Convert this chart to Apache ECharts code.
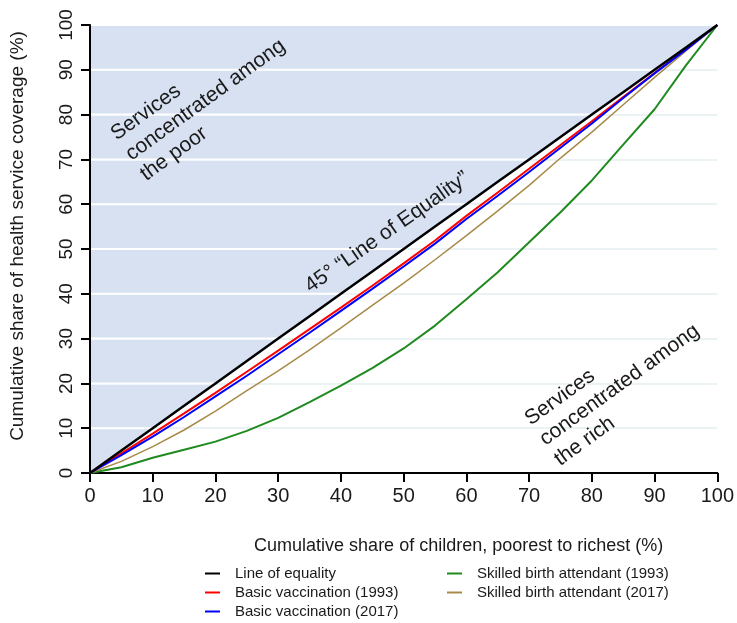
<!DOCTYPE html>
<html>
<head>
<meta charset="utf-8">
<script src="https://cdn.jsdelivr.net/npm/echarts@6/dist/echarts.min.js"></script>
<style>
  html, body { margin: 0; padding: 0; background: #ffffff; }
  #chart { width: 737px; height: 623px; }
</style>
</head>
<body>
<div id="chart"></div>
<script>
// Cumulative share of children, poorest to richest (%)
const shareChildren = [0, 5, 10, 15, 20, 25, 30, 35, 40, 45, 50, 55, 60, 65, 70, 75, 80, 85, 90, 95, 100];

// Cumulative share of health service coverage (%) for each indicator
const lineOfEquality = [0, 5, 10, 15, 20, 25, 30, 35, 40, 45, 50, 55, 60, 65, 70, 75, 80, 85, 90, 95, 100];
const basicVacc1993 = [0, 4.4, 8.8, 13.3, 17.9, 22.6, 27.3, 32.1, 36.9, 41.8, 46.8, 51.9, 57.4, 62.6, 67.9, 73.2, 78.5, 83.9, 89.3, 94.6, 100];
const basicVacc2017 = [0, 4.0, 8.1, 12.5, 17.1, 21.7, 26.5, 31.3, 36.2, 41.1, 46.1, 51.2, 56.7, 61.9, 67.2, 72.6, 78.0, 83.7, 89.2, 94.5, 100];
const birthAtt1993 = [0, 1.3, 3.4, 5.2, 7.0, 9.4, 12.3, 15.8, 19.5, 23.4, 27.8, 32.9, 38.8, 44.8, 51.5, 58.2, 65.3, 73.3, 81.2, 91.0, 100];
const birthAtt2017 = [0, 2.6, 5.9, 9.6, 13.8, 18.4, 22.8, 27.5, 32.4, 37.4, 42.4, 47.6, 53.0, 58.5, 64.2, 70.3, 76.1, 82.2, 88.3, 94.2, 100];

// Axis ticks (both axes)
const tickValues = [0, 10, 20, 30, 40, 50, 60, 70, 80, 90, 100];

const seriesNames = [
  'Line of equality',
  'Basic vaccination (1993)',
  'Basic vaccination (2017)',
  'Skilled birth attendant (1993)',
  'Skilled birth attendant (2017)'
];

const FONT = '"Liberation Sans", Arial, sans-serif';
const TEXT = '#1a1a1a';
const AXIS_MIN = tickValues[0];
const AXIS_MAX = tickValues[tickValues.length - 1];

const pairs = ys => shareChildren.map((x, i) => [x, ys[i]]);

const chart = echarts.init(document.getElementById('chart'), null, { renderer: 'canvas' });

const rot = 36 * Math.PI / 180;
const noteStyle = {
  fill: TEXT,
  font: '21px ' + FONT,
  lineHeight: 25,
  align: 'left',
  verticalAlign: 'top'
};

const legendBase = {
  orient: 'vertical', top: 564, padding: 0, height: 60,
  icon: 'rect', itemWidth: 15, itemHeight: 2, itemGap: 0,
  selectedMode: false,
  textStyle: { fontSize: 15, lineHeight: 19, color: TEXT, fontFamily: FONT, padding: [0, 0, 0, 10] }
};

chart.setOption({
  animation: false,
  backgroundColor: '#ffffff',
  grid: { left: 90, right: 17, top: 25, bottom: 150, containLabel: false },
  xAxis: {
    type: 'value', min: AXIS_MIN, max: AXIS_MAX, interval: 10, z: 1,
    name: 'Cumulative share of children, poorest to richest (%)',
    nameLocation: 'middle', nameGap: 64,
    nameTextStyle: { fontSize: 18, color: TEXT, fontFamily: FONT, padding: [0, 0, 0, 110] },
    axisLine: { show: true, onZero: false, lineStyle: { color: '#000', width: 2 } },
    axisTick: { show: true, length: 9, lineStyle: { color: '#000', width: 2 } },
    axisLabel: { fontSize: 20, color: TEXT, fontFamily: FONT, margin: 13 },
    splitLine: { show: false }
  },
  yAxis: {
    type: 'value', min: AXIS_MIN, max: AXIS_MAX, interval: 10, z: 1,
    name: 'Cumulative share of health service coverage (%)',
    nameLocation: 'middle', nameGap: 63, nameRotate: 90,
    nameTextStyle: { fontSize: 19, color: TEXT, fontFamily: FONT, padding: [0, 0, 0, 26] },
    axisLine: { show: true, onZero: false, lineStyle: { color: '#000', width: 2 } },
    axisTick: { show: true, length: 9, lineStyle: { color: '#000', width: 2 } },
    axisLabel: { fontSize: 19, color: TEXT, fontFamily: FONT, rotate: 90, margin: 14 },
    splitLine: { show: true, lineStyle: { color: '#e3eef1', width: 1.5 } }
  },
  legend: [
    Object.assign({ data: seriesNames.slice(0, 3), left: 205 }, legendBase),
    Object.assign({ data: seriesNames.slice(3), left: 447 }, legendBase)
  ],
  graphic: [
    {
      type: 'text', x: 106, y: 126, rotation: rot, z: 100,
      style: Object.assign({ text: 'Services\nconcentrated among\nthe poor' }, noteStyle)
    },
    {
      type: 'text', x: 520, y: 411, rotation: rot, z: 100,
      style: Object.assign({ text: 'Services\nconcentrated among\nthe rich' }, noteStyle)
    },
    {
      type: 'text', x: 300, y: 278, rotation: 35 * Math.PI / 180, z: 100,
      style: Object.assign({ text: '45° \u201CLine of Equality\u201D' }, noteStyle)
    }
  ],
  series: [
    {
      // shaded region above the line of equality
      type: 'custom', name: 'poorRegion', silent: true, z: 0,
      data: [[AXIS_MIN, AXIS_MAX]],
      renderItem: function (params, api) {
        const a = api.coord([AXIS_MIN, AXIS_MIN]);
        const b = api.coord([AXIS_MIN, AXIS_MAX]);
        const c = api.coord([AXIS_MAX, AXIS_MAX]);
        return {
          type: 'polygon',
          shape: { points: [a, b, c] },
          style: { fill: '#d8e1f1' }
        };
      }
    },
    {
      // white grid lines across the shaded region
      type: 'custom', name: 'poorGrid', silent: true, z: 2,
      data: tickValues.slice(1).map(v => [v, v]),
      renderItem: function (params, api) {
        const v = api.value(1);
        const p0 = api.coord([AXIS_MIN, v]);
        const p1 = api.coord([v, v]);
        return {
          type: 'line',
          shape: { x1: p0[0] + 1, y1: p0[1], x2: p1[0], y2: p1[1] },
          style: { stroke: '#ffffff', lineWidth: 2 }
        };
      }
    },
    {
      name: seriesNames[3], type: 'line', data: pairs(birthAtt1993), z: 3,
      symbol: 'none', color: '#1f8a1f', lineStyle: { width: 2, color: '#1f8a1f' }
    },
    {
      name: seriesNames[4], type: 'line', data: pairs(birthAtt2017), z: 3,
      symbol: 'none', color: '#a88a48', lineStyle: { width: 1.5, color: '#a88a48' }
    },
    {
      name: seriesNames[1], type: 'line', data: pairs(basicVacc1993), z: 4,
      symbol: 'none', color: '#ff0000', lineStyle: { width: 2, color: '#ff0000' }
    },
    {
      name: seriesNames[2], type: 'line', data: pairs(basicVacc2017), z: 4,
      symbol: 'none', color: '#0000ff', lineStyle: { width: 2, color: '#0000ff' }
    },
    {
      name: seriesNames[0], type: 'line', data: pairs(lineOfEquality), z: 5,
      symbol: 'none', color: '#000000', lineStyle: { width: 2.5, color: '#000000' }
    }
  ]
});
</script>
</body>
</html>
